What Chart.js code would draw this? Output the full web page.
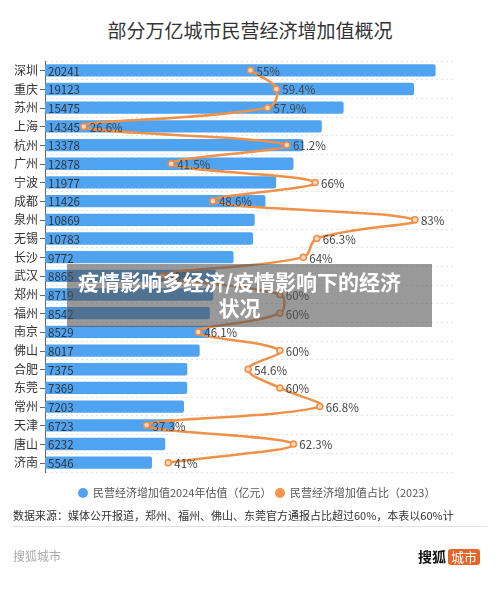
<!DOCTYPE html>
<html>
<head>
<meta charset="utf-8">
<script src="https://cdn.jsdelivr.net/npm/chart.js@4.4.1/dist/chart.umd.min.js"></script>
<style>
  body { margin: 0; background: #fff; font-family: "Noto Sans CJK SC", "Noto Sans", sans-serif; }
  #wrap { position: relative; width: 500px; height: 591px; overflow: hidden; }
  #chartBox { position: absolute; left: 0; top: 0; width: 500px; height: 591px; }
  .title { position: absolute; left: 0; width: 500px; top: 18px; text-align: center; font-size: 19px; color: #333; line-height: 24px; }
  .legend { position: absolute; top: 484px; font-size: 11px; color: #555; line-height: 16px; }
  .legend i { display: inline-block; width: 10px; height: 10px; border-radius: 50%; vertical-align: -1px; margin-right: 5px; }
  .note { position: absolute; left: 13px; top: 507px; font-size: 11px; color: #333; line-height: 16px; }
  .rule { position: absolute; left: 13px; top: 526px; width: 474px; height: 1px; background: #e2e2e2; }
  .src { position: absolute; left: 13px; top: 547px; font-size: 12px; color: #aaa; line-height: 18px; }
  .brand { position: absolute; left: 418px; top: 547px; font-size: 14px; font-weight: bold; color: #111; line-height: 18px; }
  .brand span { display: inline-block; background: #e8652a; color: #fff; font-weight: normal; font-size: 13px; border-radius: 3px; padding: 0 3px; margin-left: 2px; line-height: 16px; }
  .banner { position: absolute; left: 67px; top: 264px; width: 365px; height: 63px; background: rgba(80,80,80,0.58);
            color: #fff; font-weight: bold; font-size: 21px; line-height: 26px; text-align: center; box-sizing: border-box; padding: 4px 20px 0 0; }
</style>
</head>
<body>
<div id="wrap">
  <div class="title">部分万亿城市民营经济增加值概况</div>
  <div id="chartBox"><canvas id="chart"></canvas></div>
  <div class="legend" style="left:78px"><i style="background:#4fa3f0"></i>民营经济增加值2024年估值（亿元）</div>
  <div class="legend" style="left:275px"><i style="background:#f5944d"></i>民营经济增加值占比（2023）</div>
  <div class="note">数据来源：媒体公开报道，郑州、福州、佛山、东莞官方通报占比超过60%，本表以60%计</div>
  <div class="rule"></div>
  <div class="src">搜狐城市</div>
  <div class="brand">搜狐<span>城市</span></div>
  <div class="banner">疫情影响多经济/疫情影响下的经济<br>状况</div>
</div>
<script>
// Data
const cities = ["深圳", "重庆", "苏州", "上海", "杭州", "广州", "宁波", "成都", "泉州", "无锡", "长沙",
  "武汉", "郑州", "福州", "南京", "佛山", "合肥", "东莞", "常州", "天津", "唐山", "济南"];
const addedValue = [20241, 19123, 15475, 14345, 13378, 12878, 11977, 11426, 10869, 10783, 9772,
  8865, 8719, 8542, 8529, 8017, 7375, 7369, 7203, 6723, 6232, 5546];
const share = [55, 59.4, 57.9, 26.6, 61.2, 41.5, 66, 48.6, 83, 66.3, 64,
  40, 60, 60, 46.1, 60, 54.6, 60, 66.8, 37.3, 62.3, 41];

Chart.defaults.font.family = '"Noto Sans CJK SC", "Noto Sans", sans-serif';

// value labels + little tick marks on the y axis
const labelsPlugin = {
  id: "labels",
  afterDatasetsDraw(chart) {
    const ctx = chart.ctx;
    const y = chart.scales.y;
    ctx.save();
    ctx.strokeStyle = "#666";
    ctx.lineWidth = 1;
    cities.forEach((c, i) => {
      const py = Math.round(y.getPixelForValue(i)) + 0.5;
      ctx.beginPath();
      ctx.moveTo(y.right - 5, py);
      ctx.lineTo(y.right, py);
      ctx.stroke();
    });

    ctx.font = '11.5px "Noto Sans CJK SC"';
    ctx.textBaseline = "middle";
    ctx.textAlign = "left";
    ctx.fillStyle = "#333";
    // dataset 1 = bars, dataset 0 = line
    chart.getDatasetMeta(1).data.forEach((bar, i) => {
      ctx.fillText(addedValue[i], bar.base + 3, bar.y + 1);
    });
    ctx.fillStyle = "#444";
    chart.getDatasetMeta(0).data.forEach((pt, i) => {
      ctx.fillText(share[i] + "%", pt.x + 6, pt.y + 1);
    });
    ctx.restore();
  },
};

const chart = document.querySelector("#chart").getContext("2d");

new Chart(chart, {
  type: "bar",
  data: {
    labels: cities,
    datasets: [
      {
        type: "line",
        label: "民营经济增加值占比（2023）",
        data: share,
        indexAxis: "y",
        xAxisID: "x2",
        yAxisID: "y",
        borderColor: "#f0914a",
        borderWidth: 2.5,
        tension: 0.4,
        pointRadius: 3,
        pointBackgroundColor: "#fcd9bd",
        pointBorderColor: "#ee8c42",
        pointBorderWidth: 1.5,
        order: 0,
      },
      {
        label: "民营经济增加值2024年估值（亿元）",
        data: addedValue,
        xAxisID: "x",
        yAxisID: "y",
        backgroundColor: "#4fa3f0",
        borderRadius: 2,
        borderSkipped: false,
        barPercentage: 0.66,
        categoryPercentage: 1,
        order: 1,
      },
    ],
  },
  options: {
    indexAxis: "y",
    responsive: true,
    maintainAspectRatio: false,
    animation: false,
    layout: { padding: { top: 61, bottom: 119, left: 0, right: 44 } },
    plugins: {
      legend: { display: false },
      tooltip: { enabled: false },
    },
    scales: {
      x: { display: false, min: 0, max: 21300 },
      x2: { display: false, min: 20, max: 90 },
      y: {
        afterFit: (axis) => { axis.width = 45; },
        ticks: { color: "#333", font: { size: 12 }, padding: 7 },
        grid: { offset: true, color: "#e2e2e2", drawTicks: false, tickLength: 0 },
        border: { display: true, color: "#666", width: 1, dash: [2, 3] },
      },
    },
  },
  plugins: [labelsPlugin],
});
</script>
</body>
</html>
